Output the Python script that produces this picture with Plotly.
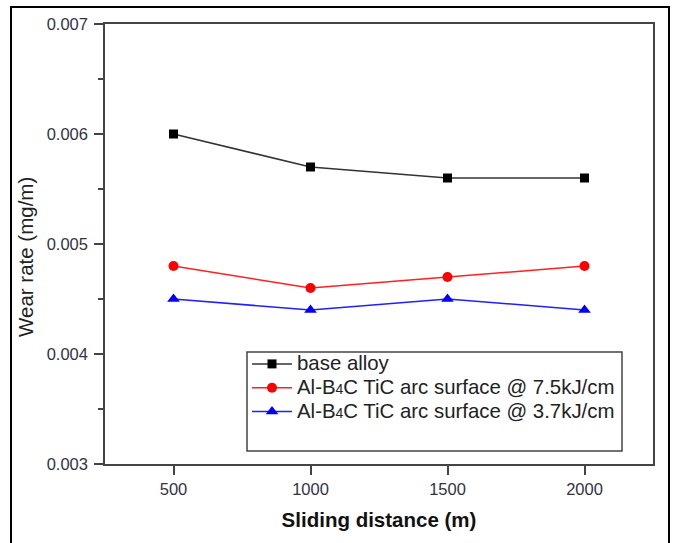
import plotly.graph_objects as go

distance = [500, 1000, 1500, 2000]
base_alloy = [0.0060, 0.0057, 0.0056, 0.0056]
arc_75 = [0.0048, 0.0046, 0.0047, 0.0048]
arc_37 = [0.0045, 0.0044, 0.0045, 0.0044]

sub4 = "<span style='font-size:14px'>4</span>"
names = [
    "<span style='font-size:20.4px'>base alloy</span>",
    "<span style='font-size:20.4px'>Al-B" + sub4 + "C TiC arc surface @ 7.5kJ/cm</span>",
    "<span style='font-size:20.4px'>Al-B" + sub4 + "C TiC arc surface @ 3.7kJ/cm</span>",
]

W, H = 675, 543
L, R, T, B = 105, 22, 24, 79
pw, ph = W - L - R, H - T - B

def px(x):
    return (x - L) / pw

def py(y):
    return (H - B - y) / ph

FONT = "Liberation Sans, Arial"

fig = go.Figure()
fig.add_trace(go.Scatter(x=distance, y=base_alloy, name=names[0], mode="lines+markers",
                         line=dict(color="#333333", width=1.5),
                         marker=dict(symbol="square", size=9, color="black")))
fig.add_trace(go.Scatter(x=distance, y=arc_75, name=names[1], mode="lines+markers",
                         line=dict(color="#ff2020", width=1.5),
                         marker=dict(symbol="circle", size=10, color="#ff0000")))
fig.add_trace(go.Scatter(x=distance, y=arc_37, name=names[2], mode="lines+markers",
                         line=dict(color="#2020ff", width=1.5),
                         marker=dict(symbol="triangle-up", size=11, color="#0000ff")))

axis_common = dict(showgrid=False, zeroline=False, showline=True, linecolor="#444444",
                   linewidth=1.5, mirror=True, ticks="outside", tickcolor="#444444",
                   tickwidth=1.5, ticklen=9,
                   tickfont=dict(family=FONT, size=16.5, color="#333344"))

fig.update_xaxes(range=[250, 2250], tickvals=distance, **axis_common,
                 title=dict(text="<b>Sliding distance (m)</b>", standoff=16,
                            font=dict(family=FONT, size=20.5, color="#111111")))
fig.update_yaxes(range=[0.003, 0.007], tickvals=[0.003, 0.004, 0.005, 0.006, 0.007],
                 tickformat=".3f", ticklabelstandoff=3, **axis_common,
                 minor=dict(tickvals=[0.0035, 0.0045, 0.0055, 0.0065], ticks="outside",
                            ticklen=5, tickcolor="#444444", tickwidth=1.5))

fig.add_annotation(text="Wear rate (mg/m)", xref="paper", yref="paper",
                   x=px(25), y=py(257), xanchor="center", yanchor="middle",
                   textangle=-90, showarrow=False,
                   font=dict(family=FONT, size=20.5, color="#222222"))

fig.update_layout(
    width=W, height=H,
    margin=dict(l=L, r=R, t=T, b=B, autoexpand=False),
    plot_bgcolor="white", paper_bgcolor="white",
    showlegend=True,
    legend=dict(x=px(247), y=py(347), xanchor="left", yanchor="top",
                bgcolor="rgba(0,0,0,0)", borderwidth=0, tracegroupgap=0,
                itemwidth=40,
                font=dict(family=FONT, size=16, color="#222222")),
    shapes=[
        dict(type="rect", xref="paper", yref="paper", x0=px(247), x1=px(622),
             y0=py(451), y1=py(352), line=dict(color="#444444", width=1.5), layer="above"),
        dict(type="rect", xref="paper", yref="paper", x0=px(11), x1=px(669),
             y0=py(560), y1=py(7), line=dict(color="black", width=2)),
    ],
)

fig.write_html("out.html")
